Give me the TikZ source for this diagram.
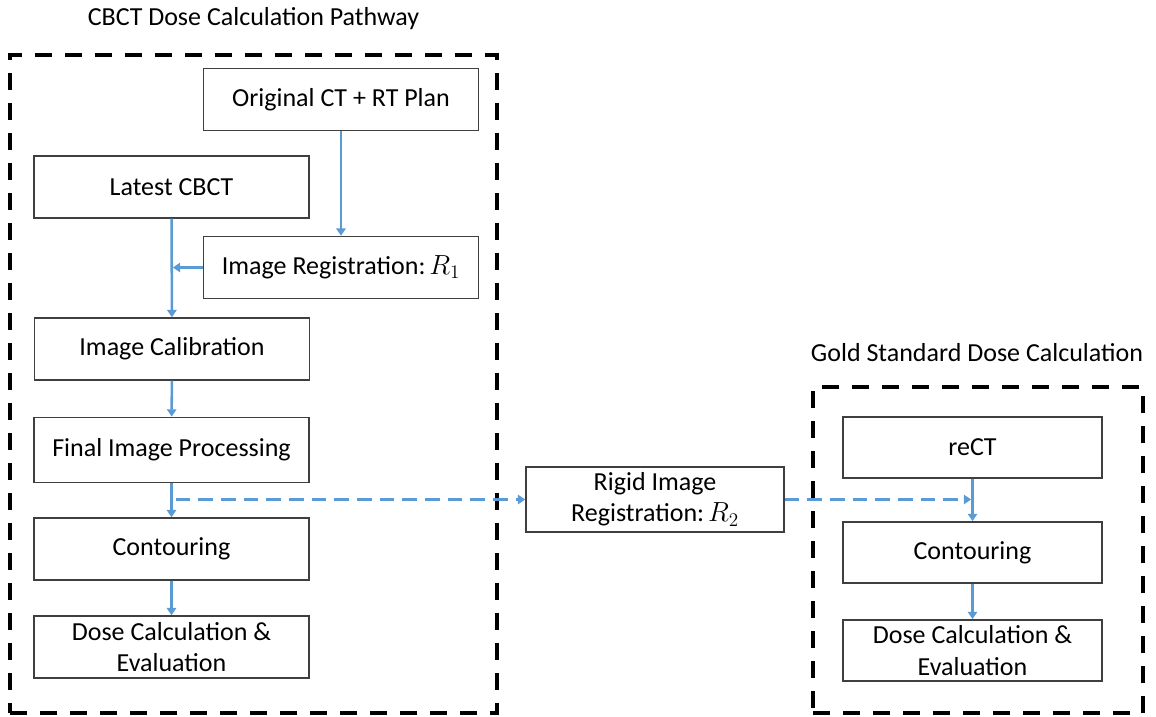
\documentclass[tikz,border=0pt]{standalone}
\usepackage{fontspec}
\setmainfont{Carlito}
\usetikzlibrary{arrows.meta}
\definecolor{flowblue}{HTML}{5B9BD5}
\definecolor{boxgray}{HTML}{3F3F3F}
\begin{document}
\begin{tikzpicture}[x=0.75pt,y=-0.75pt,
  every node/.style={font=\fontsize{19.5}{23.5}\selectfont, inner sep=0pt},
  stepbox/.style={draw=boxgray, line width=1.1pt, fill=white, align=center},
  lbox/.style={stepbox, minimum width=206pt, minimum height=46.5pt},
  rbox/.style={stepbox, minimum width=194pt, minimum height=46pt},
  frame/.style={draw=black, line width=3pt, dash pattern=on 12.75pt off 9.75pt},
  flow/.style={draw=flowblue, line width=1.9pt, -{Triangle[length=5.5pt,width=7pt]}},
  dflow/.style={flow, dash pattern=on 11pt off 6pt},
  title/.style={anchor=center}
]
\useasboundingbox (0,0) rectangle (1156,717);
% frames
\node[frame, minimum width=365.25pt, minimum height=493.5pt] (fr1) at (253.5,384) {};
\node[frame, minimum width=247.5pt, minimum height=244.5pt] (fr2) at (978,550) {};
\node[title] (t1) at (253.5,19) {CBCT Dose Calculation Pathway};
\node[title] (t2) at (977,353) {Gold Standard Dose Calculation};
% left column
\node[lbox] (orig) at (341,99.5) {Original CT + RT Plan};
\node[lbox] (latest) at (171.5,187) {Latest CBCT};
\node[lbox] (reg1) at (341,267.5) {Image Registration:\hspace{3pt}$R_1$};
\node[lbox] (calib) at (172,349) {Image Calibration};
\node[lbox, minimum height=49pt] (final) at (171.5,450) {Final Image Processing};
\node[lbox] (cont) at (171.5,549) {Contouring};
\node[lbox] (dose) at (171.5,647) {Dose Calculation \&\\Evaluation};
% middle
\node[stepbox, minimum width=193.5pt, minimum height=48.75pt] (rigid) at (655,499.5) {Rigid Image\\Registration:\hspace{3pt}$R_2$};
% right column
\node[rbox] (rect) at (972.5,447.5) {reCT};
\node[rbox] (cont2) at (972.5,552.5) {Contouring};
\node[rbox] (dose2) at (972.5,650.5) {Dose Calculation \&\\Evaluation};
% connectors
\coordinate (j1) at (latest.south |- reg1.west);
\coordinate (j2) at (final.south |- rigid.west);
\coordinate (j3) at (rect.south |- rigid.east);
\draw[flow] (orig) -- (reg1);
\draw[flow] (latest) -- (calib);
\draw[flow] (reg1.west) -- ([xshift=1pt]j1);
\draw[flow] (calib) -- (final);
\draw[flow] (final) -- (cont);
\draw[flow] (cont) -- (dose);
\draw[dflow] ([xshift=3pt]j2) -- (rigid.west);
\draw[dflow] (rigid.east) -- ([xshift=-1pt]j3);
\draw[flow] (rect) -- (cont2);
\draw[flow] (cont2) -- (dose2);
\end{tikzpicture}
\end{document}
